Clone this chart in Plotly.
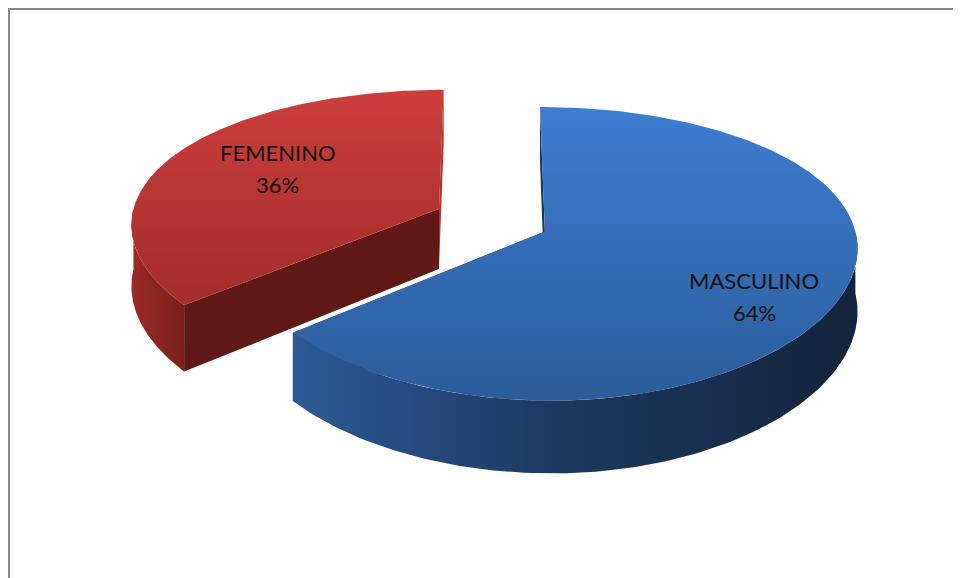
import numpy as np
import plotly.graph_objects as go

# ---------------- data ----------------
labels = ["MASCULINO", "FEMENINO"]
values = [64, 36]

# ---------------- styles ----------------
top_scales = [
    [[0, "#2c5c9a"], [1, "#3c7ed2"]],
    [[0, "#a22d2a"], [1, "#cd3e3b"]],
]
side_scales = [
    [[0, "#2c5a97"], [0.45, "#1d3a62"], [1, "#13243b"]],
    [[0, "#9b2a27"], [1, "#7a201e"]],
]
face_start_colors = ["#1b3456", "#611917"]   # face at the start angle of each slice
face_end_colors = ["#1b3456", "#b3322f"]     # face at the end angle of each slice
label_pos = {"MASCULINO": (754, 296), "FEMENINO": (277.5, 168)}

OFF = 8                      # page body margin
W, H = 961 - OFF, 578 - OFF  # figure size

# projection model (window pixels)
CX, CY = 491.5, 220.0
RX, RY = 308.0, 140.0
KX, KY = 0.10, 0.15
DEPTH = 61.0
PULL = 0.19


def proj(u, v, z):
    u = np.asarray(u, float)
    v = np.asarray(v, float)
    wx = 1 + KX * v
    wy = 1 + KY * v
    x = CX + RX * u / wx
    y = CY - RY * v / wy + DEPTH * z / wy
    return x, y


fig = go.Figure()
total = float(sum(values))
cum = 0.0
slices = []
for i, val in enumerate(values):
    t1 = 90 - 360 * cum / total
    cum += val
    t2 = 90 - 360 * cum / total
    mid = np.radians((t1 + t2) / 2)
    ou, ov = PULL * np.cos(mid), PULL * np.sin(mid)
    slices.append((t1, t2, ou, ov))


def add_poly(x, y, grad=None, color=None):
    kw = dict(x=list(x) + [x[0]], y=list(y) + [y[0]], mode="lines", fill="toself",
              line=dict(width=0), hoverinfo="skip", showlegend=False)
    if grad is not None:
        kw["fillgradient"] = grad
    else:
        kw["fillcolor"] = color
    fig.add_trace(go.Scatter(**kw))


def radial_face(ou, ov, th, color):
    c, s = np.cos(np.radians(th)), np.sin(np.radians(th))
    us = [ou, ou + c, ou + c, ou]
    vs = [ov, ov + s, ov + s, ov]
    zs = [0, 0, 1, 1]
    xs, ys = [], []
    for uu, vv, zz in zip(us, vs, zs):
        px, py = proj(uu, vv, zz)
        xs.append(float(px)); ys.append(float(py))
    add_poly(xs, ys, color=color)


# draw order: red (index 1) first, then blue (index 0)
for i in [1, 0]:
    t1, t2, ou, ov = slices[i]
    radial_face(ou, ov, t1, face_start_colors[i])
    radial_face(ou, ov, t2, face_end_colors[i])
    # visible outer side (sin < 0)
    for k in range(-2, 2):
        a = max(t2, -180 + 360 * k)
        b = min(t1, 0 + 360 * k)
        if b > a:
            th = np.radians(np.linspace(b, a, 120))
            u = ou + np.cos(th)
            v = ov + np.sin(th)
            x0, y0 = proj(u, v, 0)
            x1, y1 = proj(u, v, 1)
            xs = np.concatenate([x0, x1[::-1]])
            ys = np.concatenate([y0, y1[::-1]])
            add_poly(xs, ys, grad=dict(type="horizontal", colorscale=side_scales[i]))
    # top face
    th = np.radians(np.linspace(t1, t2, 240))
    u = np.concatenate([[ou], ou + np.cos(th)])
    v = np.concatenate([[ov], ov + np.sin(th)])
    xs, ys = proj(u, v, 0)
    add_poly(xs, ys, grad=dict(type="vertical", colorscale=top_scales[i]))

# labels
for lab, val in zip(labels, values):
    lx, ly = label_pos[lab]
    pct = f"{round(100 * val / total)}%"
    fig.add_annotation(x=lx, y=ly, text=lab, showarrow=False, yshift=16,
                       font=dict(family="Lato", size=22, color="#111111"))
    fig.add_annotation(x=lx, y=ly, text=pct, showarrow=False, yshift=-16,
                       font=dict(family="Lato", size=22, color="#111111"))

# chart frame (top and left edges visible)
fig.add_shape(type="rect", xref="paper", yref="paper",
              x0=0, x1=1.05, y0=-0.05, y1=1,
              line=dict(color="#878787", width=4), layer="above")

fig.update_layout(
    width=W, height=H, margin=dict(l=0, r=0, t=0, b=0),
    paper_bgcolor="white", plot_bgcolor="white", showlegend=False,
    xaxis=dict(range=[OFF, 961], visible=False, fixedrange=True),
    yaxis=dict(range=[578, OFF], visible=False, fixedrange=True),
)
fig.write_html("out.html")
